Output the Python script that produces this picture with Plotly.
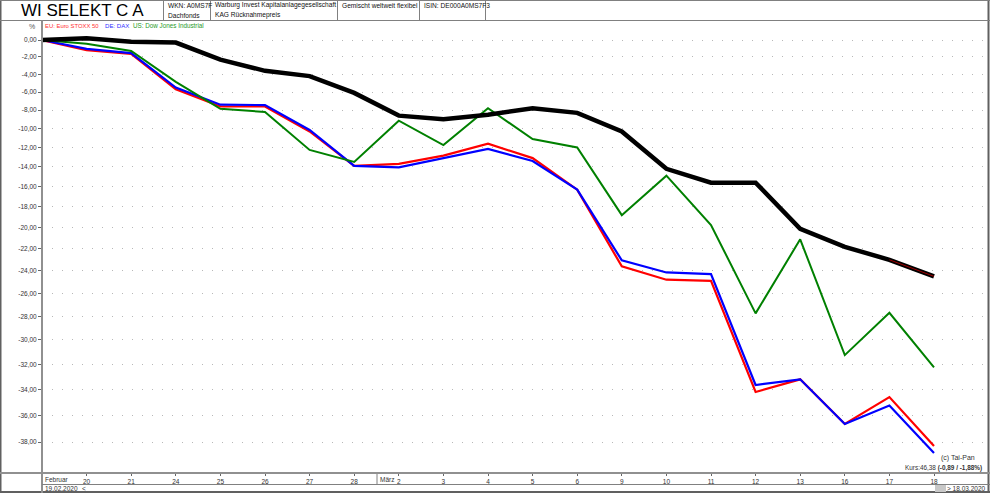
import math
import plotly.graph_objects as go

# ---------------- data ----------------
days = ["19", "20", "21", "24", "25", "26", "27", "28", "2", "3", "4", "5", "6",
        "9", "10", "11", "12", "13", "16", "17", "18"]
months = ["Februar"] * 8 + ["März"] * 13

fund = [0.0, 0.2, -0.2, -0.3, -2.3, -3.6, -4.2, -6.1, -8.6, -9.0, -8.5, -7.8, -8.3,
        -10.3, -14.2, -15.6, -15.6, -20.1, -21.8, -23.0, -24.5]
stoxx = [0.0, -1.2, -1.65, -5.7, -7.6, -7.6, -10.3, -13.9, -13.7, -12.85, -11.6, -13.1,
         -16.3, -23.6, -24.8, -24.9, -34.2, -33.2, -36.65, -34.6, -38.3]
dax = [0.0, -1.05, -1.55, -5.5, -7.4, -7.45, -10.15, -13.9, -14.05, -13.1, -12.15, -13.4,
       -16.3, -23.05, -24.15, -24.3, -33.65, -33.2, -36.65, -35.25, -38.8]
dow = [0.0, -0.45, -1.3, -4.85, -7.85, -8.2, -12.25, -13.5, -9.15, -11.75, -7.8, -11.1,
       -12.0, -18.8, -14.9, -19.75, -27.75, -21.1, -31.25, -27.7, -32.25]

ytick_vals = list(range(0, -39, -2))
ytick_text = [f"{v:.2f}".replace(".", ",") for v in ytick_vals]

# ---------------- geometry helpers ----------------
W, H = 990, 493
PL, PR, PT, PB = 42, 985, 21, 472


def px(x):
    return (x - PL) / (PR - PL)


def py(y):
    return (PB - y) / (PB - PT)


FONT = "Liberation Sans, Arial, sans-serif"
idx = list(range(len(days)))


def lvl(vals):
    return [None if v is None else 100 + v for v in vals]


fig = go.Figure()
fig.add_trace(go.Scatter(x=idx, y=lvl(stoxx), mode="lines", name="EU: Euro STOXX 50",
                         line=dict(color="#ff0000", width=2.2)))
fig.add_trace(go.Scatter(x=idx, y=lvl(dax), mode="lines", name="DE: DAX",
                         line=dict(color="#0000ff", width=2.2)))
fig.add_trace(go.Scatter(x=idx, y=lvl(dow), mode="lines", name="US: Dow Jones Industrial",
                         line=dict(color="#008000", width=2)))
fig.add_trace(go.Scatter(x=idx, y=lvl(fund), mode="lines", name="WI SELEKT C A",
                         line=dict(color="#000000", width=4.5)))
overlay = [None] * (len(fund) - 2) + fund[-2:]
fig.add_trace(go.Scatter(x=idx, y=lvl(overlay), mode="lines", name="Kurs",
                         line=dict(color="#a00000", width=1)))

ytop = 2 + (40 - PT) / 841 / math.log(10)
ybot = 2 - (PB - 40) / 841 / math.log(10)
xmax = (PR - PL) / 44.6

fig.update_layout(
    width=W, height=H,
    margin=dict(l=PL, r=W - PR, t=PT, b=H - PB, pad=0, autoexpand=False),
    paper_bgcolor="white", plot_bgcolor="white",
    showlegend=False,
    font=dict(family=FONT, size=7, color="#444"),
    xaxis=dict(range=[0, xmax], tickmode="array", tickvals=idx[1:], ticktext=days[1:],
               showgrid=False, zeroline=False, showline=False, automargin=False,
               ticks="outside", ticklen=3, tickcolor="#666", tickwidth=1,
               tickfont=dict(size=6.5, color="#333", family=FONT)),
    yaxis=dict(type="log", range=[ybot, ytop], tickmode="array",
               tickvals=[100 + v for v in ytick_vals], ticktext=ytick_text,
               showgrid=True, gridcolor="#b8b8b8", gridwidth=1, griddash="1px,9px",
               zeroline=False, showline=False, automargin=False,
               ticks="outside", ticklen=3, tickcolor="#666",
               tickfont=dict(size=6.5, color="#333", family=FONT)),
)

shapes = []


def line(x0, y0, x1, y1, color="#808080", width=1):
    shapes.append(dict(type="line", xref="paper", yref="paper",
                       x0=px(x0), y0=py(y0), x1=px(x1), y1=py(y1),
                       line=dict(color=color, width=width)))


# outer frame
line(0.5, 0, 0.5, H, "#606060", 2)
line(W - 1.5, 0, W - 1.5, H, "#606060", 2)
line(0, 0.5, W, 0.5, "#808080", 1)
line(0, H - 1, W, H - 1, "#606060", 2)
# header
line(0, 20.5, W, 20.5, "#808080", 1)
for xv in [163.5, 210.5, 337.5, 419.5, 485.5]:
    line(xv, 0, xv, 20.5, "#808080", 1)
# plot left axis
line(42, 20.5, 42, 493, "#909090", 2)
# x-axis band lines
line(0, 473, W, 473, "#909090", 2)
line(42, 484.5, W, 484.5, "#808080", 1)
# März separator
line(377, 474, 377, 484, "#808080", 1)
# small grey box bottom right
shapes.append(dict(type="rect", xref="paper", yref="paper",
                   x0=px(935), y0=py(492), x1=px(946), y1=py(485),
                   fillcolor="#c8c8c8", line=dict(width=0)))
fig.update_layout(shapes=shapes)

ann = []


def text(x, y, s, size=7, color="#333", anchor="left", family=FONT):
    ann.append(dict(xref="paper", yref="paper", x=px(x), y=py(y), text=s,
                    showarrow=False, xanchor=anchor, yanchor="middle",
                    font=dict(size=size, color=color, family=family)))


text(82, 10.5, "WI SELEKT C A", size=17, color="#000", anchor="center")
text(166, 5.5, "WKN: A0MS7F", size=6.6, color="#111")
text(166, 15, "Dachfonds", size=6.6, color="#111")
text(213, 5.5, "Warburg Invest Kapitalanlagegesellschaft", size=6.6, color="#111")
text(213, 15, "KAG Rücknahmepreis", size=6.6, color="#111")
text(340, 5.5, "Gemischt weltweit flexibel", size=6.6, color="#111")
text(422, 5.5, "ISIN: DE000A0MS7F3", size=6.6, color="#111")

text(37, 26, "%", size=7, color="#555", anchor="right")
text(43, 25.5, "EU: Euro STOXX 50", size=5.9, color="#ff3030")
text(103, 25.5, "DE: DAX", size=6.1, color="#3030ff")
text(131, 25.5, "US: Dow Jones Industrial", size=6.3, color="#2a9a2a")

# month labels from data
prev = None
for i, m in enumerate(months):
    if m != prev:
        xp = PL + 44.6 * i
        if i == 0:
            text(xp + 1, 479, m, size=6.5, color="#333")
        else:
            text(xp - 21, 479, m, size=6.5, color="#333")
        prev = m

text(43, 489, "19.02.2020", size=6.5, color="#333")
text(80, 489, "<", size=6.5, color="#333")
text(988, 489, "> 18.03.2020", size=6.5, color="#333", anchor="right")
text(977, 458, "(c) Tai-Pan", size=7, color="#333", anchor="right")
text(984, 468, "Kurs:46,38 <b>(-0,89 / -1,88%)</b>", size=6.4, color="#333", anchor="right")

fig.update_layout(annotations=ann)
fig.write_html("out.html", config={"displayModeBar": False},
               post_script="document.body.style.margin='0px';document.body.style.overflow='hidden';")
